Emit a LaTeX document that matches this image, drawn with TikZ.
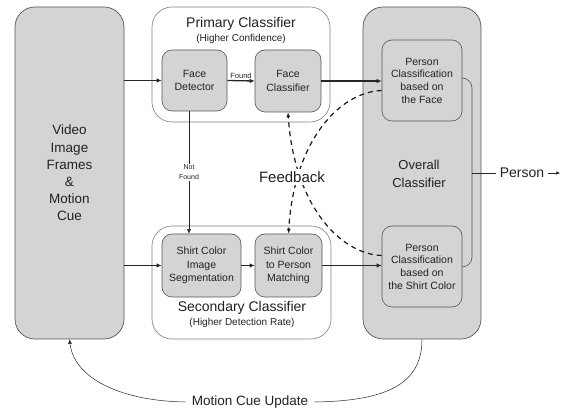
\documentclass[tikz,border=0pt]{standalone}
\usepackage{fontspec}
\setmainfont{Liberation Sans}
\usepackage{tikz}
\usetikzlibrary{arrows.meta,positioning,calc}
\definecolor{boxgray}{HTML}{D4D4D4}
\definecolor{edgegray}{HTML}{555555}
\definecolor{inkgray}{HTML}{222222}
\newcommand{\fsz}[2]{\fontsize{#1}{#2}\selectfont}

\begin{document}
\begin{tikzpicture}[
  x=1pt, y=-1pt,
  every node/.style={text=inkgray},
  bigbox/.style={draw=edgegray, fill=boxgray, rounded corners=20pt, line width=0.7pt, align=center, inner sep=0pt},
  grpbox/.style={draw=black!50, fill=white, rounded corners=20pt, line width=0.6pt, inner sep=0pt},
  inbox/.style={draw=edgegray, fill=boxgray, rounded corners=10pt, line width=0.6pt, align=center, inner sep=0pt, font=\fsz{10.5}{13.5}},
  pbox/.style={inbox, font=\fsz{10.5}{12.7}},
  ttl/.style={font=\fsz{14}{16}, inner sep=0pt},
  sub/.style={font=\fsz{10}{12}, inner sep=0pt},
  flow/.style={-{Latex[length=5pt,width=4.5pt]}, line width=1.3pt, black!85},
  thinflow/.style={-{Latex[length=4.5pt,width=4pt]}, line width=0.5pt, black!85},
  fback/.style={line width=1.2pt, black!90, dash pattern=on 5pt off 4pt},
  fbarrow/.style={fback, -{Latex[length=5pt,width=4pt]}},
]
\useasboundingbox (0,0) rectangle (566,411);

% ---------- input and output columns ----------
\node[bigbox, minimum width=109, minimum height=332, font=\fsz{13.5}{17.2}] (video) at (69.5,173)
  {Video\\Image\\Frames\\\&\\Motion\\Cue};
\node[bigbox, minimum width=118, minimum height=332] (overall) at (422,173) {};
\node[font=\fsz{13}{18}, align=center] (overtxt) at (419,174) {Overall\\Classifier};

% box behind the two person classifications
\coordinate (bk1) at (455,78);
\coordinate (bk2) at (472,78);
\coordinate (bk3) at (472,267);
\coordinate (bk4) at (455,267);
\draw[edgegray, line width=0.6pt, rounded corners=10pt] (bk1) -- (bk2) -- (bk3) -- (bk4);

\node[pbox, minimum width=80, minimum height=81] (pface) at (422,80.5)
  {Person\\Classification\\based on\\the Face};
\node[pbox, minimum width=80, minimum height=81] (pshirt) at (422,266.5)
  {Person\\Classification\\based on\\the Shirt Color};

% ---------- primary classifier ----------
\node[grpbox, minimum width=178, minimum height=115] (primary) at (241,64.5) {};
\node[ttl] (primtitle) at (241,24) {Primary Classifier};
\node[sub] (primsub) at (241,39) {(Higher Confidence)};
\node[inbox, minimum width=65, minimum height=61] (facedet) at (194.5,80.5) {Face\\Detector};
\node[inbox, minimum width=66, minimum height=62] (faceclf) at (288,81) {Face\\Classifier};

% ---------- secondary classifier ----------
\node[grpbox, minimum width=179, minimum height=113] (secondary) at (241.5,282.5) {};
\node[ttl] (sectitle) at (242,308) {Secondary Classifier};
\node[sub] (secsub) at (242,323) {(Higher Detection Rate)};
\node[inbox, minimum width=79, minimum height=63] (shirtseg) at (201.5,265.5) {Shirt Color\\Image\\Segmentation};
\node[inbox, minimum width=67, minimum height=63] (shirtmatch) at (288.5,265.5) {Shirt Color\\to Person\\Matching};

% ---------- data flow ----------
\draw[flow] (video.east |- facedet.west) -- (facedet.west);
\draw[flow] (facedet.east) -- node[above, font=\fsz{7.5}{9}, inner sep=2pt] {Found} (faceclf.west);
\draw[flow] (faceclf.east) -- (faceclf.east -| pface.west);
\draw[flow] (video.east |- shirtseg.west) -- (shirtseg.west);
\draw[flow] (shirtseg.east) -- (shirtmatch.west);
\draw[flow] (shirtmatch.east) -- (shirtmatch.east -| pshirt.west);
\coordinate (nf) at ([xshift=-5.5pt]facedet.south);
\draw[thinflow] (nf) -- node[fill=white, font=\fsz{7}{10}, align=center, inner sep=1pt] {Not\\Found} (nf |- shirtseg.north);

% ---------- feedback ----------
\coordinate (fbtop) at ([yshift=-10pt]pface.west);
\coordinate (fbbot) at ([yshift=11pt]pshirt.west);
\draw[fbarrow] (fbtop) .. controls (340,92) and (294,140) .. (shirtmatch.north);
\draw[fbarrow] (fbbot) .. controls (340,254) and (294,205) .. (faceclf.south);
\node[fill=white, font=\fsz{15}{17}, inner sep=2pt] (feedback) at (292,177) {Feedback};

% ---------- output ----------
\coordinate (merge) at (472,173);
\node[font=\fsz{14}{16}, inner sep=4pt] (person) at (522,173) {Person};
\draw[black!85, line width=0.6pt] (merge) -- (person.west);
\draw[-{Latex[length=4pt,width=3.5pt]}, black!85, line width=0.7pt] (person.east) -- ++(12,0);

% ---------- motion cue update ----------
\node[font=\fsz{13.5}{16}, inner sep=6pt] (mcu) at (250,402) {Motion Cue Update};
\draw[thinflow] (mcu.west) .. controls (120,401) and (74,378) .. (video.south);
\draw[black!85, line width=0.5pt] (overall.south) .. controls (422,385) and (385,401) .. (mcu.east);
\end{tikzpicture}
\end{document}
